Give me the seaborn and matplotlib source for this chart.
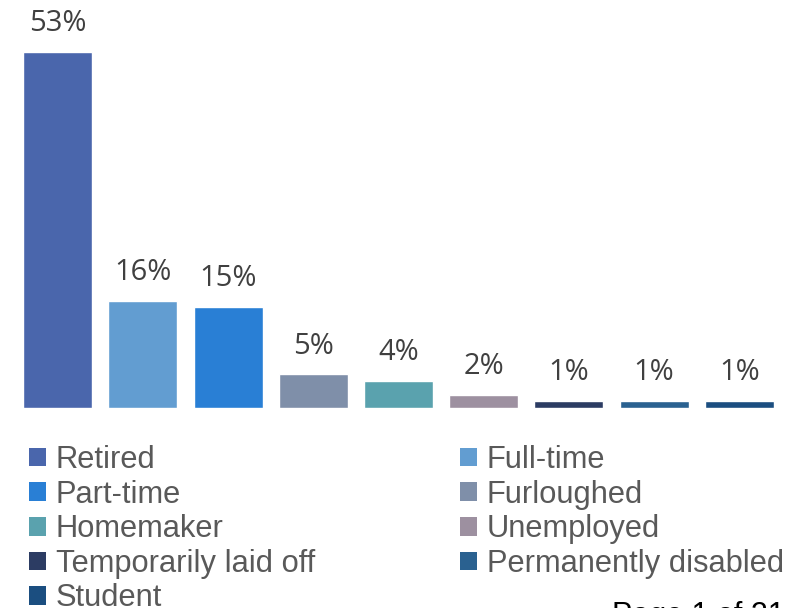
import matplotlib
matplotlib.use("Agg")
import matplotlib.pyplot as plt
from matplotlib.patches import Patch
import seaborn as sns
import pandas as pd

# Employment status of respondents (%)
categories = ["Retired", "Full-time", "Part-time", "Furloughed", "Homemaker",
              "Unemployed", "Temporarily laid off", "Permanently disabled", "Student"]
shares = [53, 16, 15, 5, 4, 2, 1, 1, 1]
colors = ["#4A66AC", "#629DD1", "#297FD5", "#7F8FA9", "#5AA2AE",
          "#9D90A0", "#2C3C63", "#2A6190", "#1B4E80"]

df = pd.DataFrame({"status": categories, "share": shares})

sns.set_theme(style="white")
plt.rcParams["font.family"] = ["Liberation Sans", "DejaVu Sans"]

W, H = 785, 608
fig = plt.figure(figsize=(W / 100, H / 100), dpi=100)
ax = fig.add_axes([15 / W, 200 / H, (782 - 15) / W, 408 / H])

sns.barplot(data=df, x="status", y="share", hue="status", order=categories,
            hue_order=categories, palette=colors, dodge=False, width=0.81,
            saturation=1, legend=False, ax=ax)

ax.set_xlim(-0.5, len(categories) - 0.5)
ax.set_ylim(0, 60.8)
ax.axis("off")

# Value labels above each bar
for i, v in enumerate(shares):
    ax.annotate(f"{v}%", (i, v), xytext=(0, 10), textcoords="offset points",
                ha="center", va="bottom", fontsize=21, color="#404040",
                family=["Open Sans", "DejaVu Sans"])

# Legend laid out row by row in two columns
handles = [Patch(facecolor=c, edgecolor="none") for c in colors]
order = [0, 2, 4, 6, 8, 1, 3, 5, 7]
leg = fig.legend([handles[i] for i in order], [categories[i] for i in order],
                 ncol=2, loc="upper left", bbox_to_anchor=(29 / W, 1 - 445 / H),
                 frameon=False, fontsize=22.2, handlelength=0.55, handleheight=0.55,
                 handletextpad=0.32, labelspacing=0.15, columnspacing=4.7,
                 borderpad=0, borderaxespad=0)
for t in leg.get_texts():
    t.set_color("#595959")

fig.text(612 / W, 7 / H, "Page 1 of 21", ha="left", va="top",
         fontsize=22, color="#000000")

fig.savefig("out.png", dpi=100)
